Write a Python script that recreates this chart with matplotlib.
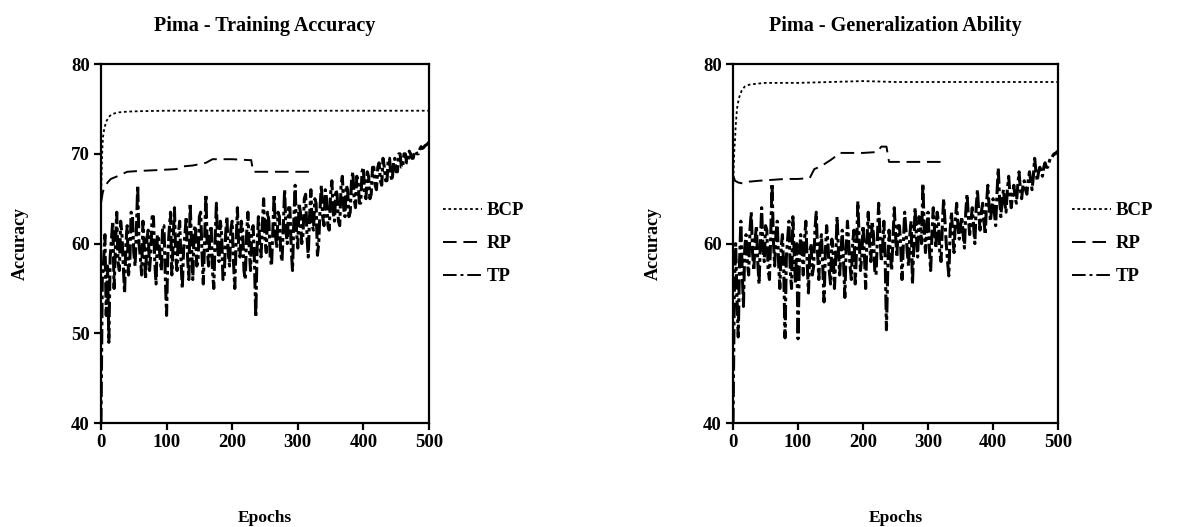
import numpy as np
import matplotlib
matplotlib.use('Agg')
import matplotlib.pyplot as plt
from matplotlib.lines import Line2D

## Data
# BCP (smooth curves)
bcp_train_x = [0, 1, 2, 3, 5, 8, 12, 16, 25, 40, 60, 100, 200, 300, 400, 500]
bcp_train_y = [64.0, 68.0, 70.5, 71.8, 72.8, 73.6, 74.1, 74.4, 74.6, 74.7, 74.75, 74.8, 74.8, 74.8, 74.8, 74.8]
bcp_gen_x = [0, 1, 2, 3, 4, 6, 9, 13, 18, 25, 35, 50, 100, 150, 200, 250, 300, 400, 500]
bcp_gen_y = [66.0, 68.5, 70.5, 71.5, 73.0, 75.0, 76.2, 77.0, 77.5, 77.7, 77.8, 77.9, 77.9, 78.0, 78.1, 78.0, 78.0, 78.0, 78.0]

# RP (stops at ~320 epochs)
rp_train_x = [0, 3, 6, 10, 15, 25, 40, 60, 90, 115, 125, 140, 160, 170, 200, 225, 229, 232, 245, 280, 321]
rp_train_y = [64.5, 65.8, 66.3, 66.8, 67.2, 67.5, 68.0, 68.1, 68.2, 68.3, 68.6, 68.7, 69.0, 69.4, 69.4, 69.3, 69.3, 68.0, 68.0, 68.0, 68.0]
rp_gen_x = [0, 3, 8, 15, 25, 40, 60, 80, 100, 118, 125, 135, 150, 165, 200, 222, 228, 236, 240, 280, 323]
rp_gen_y = [67.6, 67.0, 66.8, 66.7, 66.9, 67.0, 67.1, 67.2, 67.2, 67.3, 68.3, 68.6, 69.3, 70.1, 70.1, 70.2, 70.8, 70.8, 69.1, 69.1, 69.1]

# TP (noisy, read every 2 epochs)
tp_x = list(range(0, 501, 2))
tp_train_y = [40.0, 56.0, 58.0, 61.0, 52.0, 57.5, 49.0, 58.5, 60.5, 62.5,
              55.0, 59.5, 63.5, 58.0, 57.0, 62.5, 61.0, 57.5, 54.5, 60.0,
              62.0, 56.5, 58.0, 63.5, 63.0, 59.0, 57.5, 61.5, 66.5, 60.0,
              58.5, 56.5, 62.5, 59.5, 56.0, 60.5, 61.5, 57.0, 59.0, 63.0,
              63.0, 58.0, 55.5, 61.0, 60.5, 58.5, 57.0, 62.0, 62.0, 56.5,
              52.0, 59.0, 61.5, 63.5, 56.5, 60.0, 64.0, 58.5, 57.0, 61.0,
              62.5, 58.0, 55.0, 59.5, 61.0, 63.0, 58.5, 56.0, 64.5, 60.0,
              56.0, 61.5, 62.0, 57.5, 58.0, 63.0, 63.5, 59.0, 55.5, 60.5,
              65.5, 59.5, 57.5, 61.0, 62.0, 57.0, 55.0, 60.5, 64.5, 59.5,
              58.0, 62.5, 61.0, 56.0, 56.5, 61.0, 63.0, 59.0, 57.5, 61.5,
              62.5, 58.0, 55.0, 60.0, 64.0, 59.5, 58.5, 62.5, 61.5, 57.0,
              56.0, 61.0, 63.5, 59.5, 57.0, 61.5, 62.0, 58.0, 51.8, 59.5,
              63.0, 60.0, 58.5, 62.0, 65.0, 60.5, 59.0, 63.5, 62.5, 58.5,
              57.5, 61.5, 65.5, 61.0, 59.5, 63.5, 63.0, 59.0, 58.0, 62.0,
              66.0, 61.5, 60.0, 64.0, 64.0, 59.5, 57.0, 62.5, 66.5, 61.5,
              59.5, 64.5, 63.5, 60.0, 61.0, 65.0, 65.5, 61.0, 58.5, 63.0,
              66.0, 62.0, 61.5, 65.0, 64.5, 58.7, 60.0, 64.0, 66.5, 63.0,
              62.0, 66.0, 65.0, 62.0, 61.5, 65.5, 67.0, 63.5, 62.5, 66.0,
              65.5, 62.5, 62.0, 66.5, 67.5, 64.0, 63.0, 66.5, 66.0, 63.0,
              63.5, 67.0, 68.0, 65.0, 64.0, 67.5, 67.0, 64.5, 64.5, 68.0,
              68.5, 65.5, 65.0, 68.0, 67.5, 65.0, 65.5, 68.5, 68.5, 66.5,
              66.0, 68.5, 69.0, 67.0, 66.5, 69.5, 68.5, 67.0, 67.0, 69.5,
              69.5, 67.5, 67.0, 69.0, 69.5, 68.0, 68.0, 70.0, 70.0, 68.5,
              68.5, 70.0, 70.0, 69.0, 69.0, 70.3, 70.0, 69.5, 69.5, 70.2,
              70.3, 70.0, 70.0, 70.5, 70.8, 70.6, 70.7, 70.9, 71.0, 71.1,
              71.3]
tp_gen_y = [40.0, 55.0, 60.0, 54.0, 49.6, 58.0, 62.5, 57.0, 53.0, 59.5,
            61.0, 58.0, 56.5, 61.5, 63.5, 59.0, 57.0, 60.5, 62.0, 58.0,
            55.5, 60.0, 64.0, 59.5, 58.0, 62.0, 61.5, 57.0, 56.0, 61.0,
            66.7, 60.5, 57.5, 61.0, 62.5, 58.0, 55.0, 59.5, 61.0, 57.0,
            49.5, 58.5, 60.5, 62.5, 57.0, 55.0, 63.0, 59.0, 55.5, 60.0,
            49.4, 58.0, 61.0, 59.5, 56.5, 60.5, 62.5, 58.0, 54.5, 59.0,
            60.0, 56.5, 57.5, 61.5, 63.5, 59.0, 56.0, 60.0, 61.0, 57.5,
            53.5, 59.0, 62.0, 60.0, 57.0, 55.5, 60.5, 59.0, 55.0, 58.5,
            63.0, 59.5, 56.5, 59.0, 61.5, 58.0, 54.0, 59.5, 62.5, 60.0,
            57.5, 56.0, 60.0, 61.5, 55.5, 59.5, 64.7, 60.5, 57.0, 58.5,
            62.0, 59.0, 55.0, 60.5, 63.5, 60.0, 58.0, 62.5, 61.0, 57.0,
            56.5, 60.5, 64.5, 61.0, 58.0, 59.5, 62.5, 58.5, 50.4, 57.0,
            61.5, 59.0, 57.0, 60.5, 64.0, 61.0, 58.5, 62.0, 62.0, 59.5,
            56.0, 60.0, 63.5, 61.5, 59.0, 57.5, 61.0, 62.5, 55.5, 59.5,
            64.0, 61.0, 58.5, 63.0, 62.5, 60.0, 66.7, 62.0, 59.0, 61.5,
            63.5, 59.5, 57.0, 61.0, 64.0, 61.5, 59.5, 63.5, 62.5, 59.0,
            58.0, 62.0, 65.0, 62.5, 60.0, 58.0, 56.4, 61.5, 63.5, 61.0,
            59.0, 62.5, 64.5, 62.0, 60.5, 62.0, 63.0, 61.0, 59.5, 63.5,
            65.5, 63.0, 61.0, 62.5, 64.0, 62.0, 60.0, 64.0, 66.0, 63.5,
            61.5, 63.5, 64.5, 62.5, 61.0, 64.5, 66.5, 64.0, 62.5, 64.0,
            65.0, 63.5, 62.0, 65.5, 68.4, 65.0, 63.0, 65.0, 66.0, 64.5,
            63.5, 66.0, 67.5, 65.5, 64.0, 65.5, 66.5, 65.0, 64.5, 66.5,
            68.0, 66.0, 65.0, 66.5, 67.0, 66.0, 65.5, 67.0, 68.0, 67.0,
            66.0, 67.5, 69.5, 68.0, 67.0, 68.0, 68.5, 68.0, 67.5, 68.5,
            69.0, 68.5, 68.5, 69.0, 69.5, 69.5, 69.8, 70.0, 70.0, 70.2,
            70.3]

titles = ['Pima - Training Accuracy', 'Pima - Generalization Ability']
series_names = ['BCP', 'RP', 'TP']
y_ticks = [40, 50, 60, 70, 80]
y_ticks_gen = [40, 60, 80]
x_ticks = [0, 100, 200, 300, 400, 500]

plt.rcParams['font.family'] = ['Liberation Serif', 'DejaVu Serif']
plt.rcParams['font.weight'] = 'bold'

fig = plt.figure(figsize=(11.81, 5.27), dpi=100)
ax1 = fig.add_axes([0.0855, 0.197, 0.2777, 0.6815])
ax2 = fig.add_axes([0.6207, 0.197, 0.2752, 0.6815])

bcp_style = dict(color='black', linestyle=(0, (1.5, 1.5)), linewidth=1.3)
rp_style = dict(color='black', linestyle=(0, (7, 3.5)), linewidth=1.4)
tp_style = dict(color='black', linestyle=(0, (5, 1.2, 1.2, 1.2)), linewidth=2.2)
tp_leg_style = dict(color='black', linestyle=(0, (7, 2, 1.5, 2)), linewidth=1.4)

panels = [
    (ax1, bcp_train_x, bcp_train_y, rp_train_x, rp_train_y, tp_train_y, y_ticks),
    (ax2, bcp_gen_x, bcp_gen_y, rp_gen_x, rp_gen_y, tp_gen_y, y_ticks_gen),
]

for i, (ax, bx, by, rx, ry, ty, yt) in enumerate(panels):
    ax.plot(tp_x, ty, **tp_style)
    ax.plot(rx, ry, **rp_style)
    ax.plot(bx, by, **bcp_style)

    ax.set_xlim(0, 500)
    ax.set_ylim(40, 80)
    ax.set_xticks(x_ticks)
    ax.set_yticks(yt)
    for s in ax.spines.values():
        s.set_linewidth(1.6)
    ax.tick_params(direction='out', length=5, width=1.6, labelsize=13.5, pad=3)
    for lab in ax.get_xticklabels() + ax.get_yticklabels():
        lab.set_fontweight('bold')

    ax.set_title(titles[i], fontsize=14.5, fontweight='bold', pad=24)
    ax.set_xlabel('Epochs', fontsize=12.5, fontweight='bold', labelpad=42)
    ax.set_ylabel('Accuracy', fontsize=13, fontweight='bold', labelpad=30)

    handles = [Line2D([], [], **bcp_style), Line2D([], [], **rp_style), Line2D([], [], **tp_leg_style)]
    ax.legend(handles, series_names, loc='center left', bbox_to_anchor=(0.99, 0.5),
              frameon=False, handlelength=2.1, handletextpad=0.25, labelspacing=0.85,
              prop={'size': 13.5, 'weight': 'bold'})

fig.savefig('out.png', dpi=100)
